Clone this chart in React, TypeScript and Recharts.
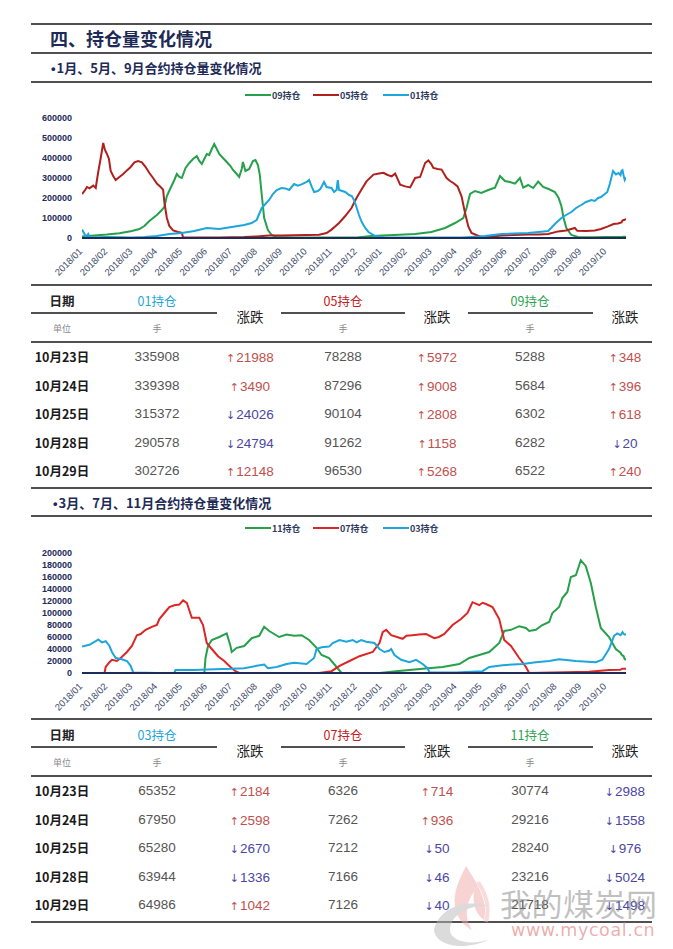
import React from "react";
import { LineChart, Line, XAxis, YAxis } from "recharts";

// month tick labels (x position = months since 2018/01)
const MONTHS = [
  "2018/01", "2018/02", "2018/03", "2018/04", "2018/05", "2018/06", "2018/07", "2018/08",
  "2018/09", "2018/10", "2018/11", "2018/12", "2019/01", "2019/02", "2019/03", "2019/04",
  "2019/05", "2019/06", "2019/07", "2019/08", "2019/09", "2019/10",
];
const MONTH_TICKS = MONTHS.map((_, i) => i);

const Y_TICKS_1 = [0, 100000, 200000, 300000, 400000, 500000, 600000];
const Y_TICKS_2 = [0, 20000, 40000, 60000, 80000, 100000, 120000, 140000, 160000, 180000, 200000];

// chart 1: [month position, open interest]
const oi09: [number, number][] = [
  [0, 8000], [0.5, 12000], [1.0, 17000], [1.5, 24000], [2.0, 35000], [2.3, 45000], [2.5, 60000],
  [2.7, 85000], [2.85, 100000], [3.0, 115000], [3.2, 140000], [3.3, 155000], [3.4, 210000],
  [3.55, 250000], [3.7, 290000], [3.8, 320000], [3.9, 305000], [4.0, 300000], [4.15, 350000],
  [4.3, 375000], [4.45, 395000], [4.6, 410000], [4.7, 385000], [4.8, 370000], [4.9, 395000],
  [5.0, 420000], [5.1, 415000], [5.2, 445000], [5.3, 470000], [5.4, 445000], [5.5, 420000],
  [5.65, 400000], [5.8, 380000], [5.95, 360000], [6.05, 340000], [6.2, 320000], [6.3, 305000],
  [6.4, 345000], [6.45, 380000], [6.55, 335000], [6.7, 345000], [6.85, 385000], [6.95, 390000],
  [7.05, 365000], [7.12, 320000], [7.2, 220000], [7.3, 100000], [7.45, 40000], [7.6, 15000],
  [7.8, 5000], [8.5, 3000], [10, 2000], [11.0, 3000], [11.6, 10000], [12.5, 15000],
  [13.35, 20000], [14.0, 30000], [14.55, 50000], [14.95, 75000], [15.28, 100000],
  [15.41, 150000], [15.55, 220000], [15.75, 235000], [16.0, 225000], [16.28, 240000],
  [16.55, 252000], [16.75, 310000], [16.95, 285000], [17.15, 280000], [17.35, 272000],
  [17.55, 300000], [17.68, 252000], [17.88, 265000], [18.08, 250000], [18.28, 282000],
  [18.48, 255000], [18.7, 245000], [18.95, 230000], [19.1, 200000], [19.21, 160000],
  [19.3, 100000], [19.41, 50000], [19.61, 15000], [19.88, 5000], [20.5, 4000], [21.0, 4500],
  [21.62, 5288], [21.66, 5684], [21.7, 6302], [21.75, 6282], [21.8, 6522],
];

const oi05: [number, number][] = [
  [0, 220000], [0.1, 235000], [0.2, 255000], [0.3, 248000], [0.45, 262000], [0.55, 250000],
  [0.65, 330000], [0.75, 400000], [0.85, 475000], [0.92, 440000], [1.0, 420000], [1.08, 395000],
  [1.15, 335000], [1.25, 310000], [1.35, 290000], [1.5, 305000], [1.65, 320000], [1.8, 338000],
  [1.95, 355000], [2.1, 378000], [2.25, 385000], [2.4, 378000], [2.55, 355000], [2.7, 325000],
  [2.85, 300000], [3.0, 272000], [3.15, 255000], [3.25, 242000], [3.3, 180000], [3.4, 100000],
  [3.5, 60000], [3.65, 38000], [3.85, 30000], [4.0, 26000], [4.05, 3000], [4.5, 2000],
  [5.5, 3000], [6.5, 5000], [7.0, 8000], [7.5, 12000], [8.0, 13000], [8.5, 14000],
  [9.0, 15000], [9.5, 16000], [9.8, 25000], [10.0, 42000], [10.3, 75000], [10.55, 110000],
  [10.8, 150000], [11.0, 200000], [11.2, 242000], [11.4, 283000], [11.68, 317000],
  [11.9, 322000], [12.08, 326000], [12.25, 315000], [12.41, 308000], [12.55, 322000],
  [12.75, 267000], [12.95, 258000], [13.15, 253000], [13.35, 300000], [13.55, 305000],
  [13.75, 375000], [13.88, 388000], [14.0, 370000], [14.08, 350000], [14.25, 345000],
  [14.41, 342000], [14.61, 300000], [14.75, 285000], [14.88, 275000], [15.05, 258000],
  [15.21, 208000], [15.35, 125000], [15.48, 58000], [15.61, 25000], [15.8, 15000],
  [16.08, 2000], [16.5, 8000], [16.81, 12000], [17.3, 15000], [17.88, 17000], [18.3, 18000],
  [18.68, 20000], [19.08, 33000], [19.4, 38000], [19.75, 50000], [19.85, 36000],
  [20.2, 35000], [20.55, 38000], [20.8, 45000], [21.08, 58000], [21.3, 70000],
  [21.48, 72316], [21.62, 78288], [21.66, 87296], [21.7, 90104], [21.75, 91262], [21.8, 96530],
];

const oi01: [number, number][] = [
  [0, 42000], [0.1, 20000], [0.15, 5000], [0.25, 20000], [0.3, 5000], [0.6, 4000], [1, 5000],
  [2, 3000], [2.5, 5000], [3, 10000], [3.5, 20000], [4, 25000], [4.5, 35000], [5, 50000],
  [5.5, 45000], [6, 55000], [6.5, 65000], [6.8, 75000], [7.0, 90000], [7.1, 120000],
  [7.2, 150000], [7.35, 170000], [7.5, 190000], [7.65, 220000], [7.8, 240000], [8.0, 250000],
  [8.15, 248000], [8.3, 240000], [8.5, 270000], [8.65, 262000], [8.8, 268000], [9.0, 280000],
  [9.1, 290000], [9.2, 258000], [9.3, 230000], [9.45, 235000], [9.55, 245000], [9.7, 280000],
  [9.8, 255000], [10.0, 250000], [10.1, 230000], [10.2, 240000], [10.25, 290000],
  [10.3, 240000], [10.55, 230000], [10.7, 215000], [10.81, 210000], [10.9, 190000],
  [11.01, 150000], [11.1, 115000], [11.21, 80000], [11.35, 50000], [11.48, 30000],
  [11.75, 10000], [12.15, 3000], [13, 2000], [14, 2000], [15.2, 2000], [15.61, 5000],
  [16.15, 10000], [16.81, 20000], [17.3, 22000], [17.88, 25000], [18.3, 30000],
  [18.68, 35000], [18.8, 50000], [18.95, 70000], [19.21, 100000], [19.4, 115000],
  [19.61, 130000], [19.8, 150000], [20.01, 165000], [20.2, 180000], [20.41, 190000],
  [20.55, 185000], [20.68, 200000], [20.8, 205000], [20.95, 220000], [21.05, 230000],
  [21.15, 270000], [21.28, 335000], [21.4, 318000], [21.5, 325000], [21.58, 313920],
  [21.62, 335908], [21.66, 339398], [21.7, 315372], [21.75, 290578], [21.8, 302726],
];

// chart 2
const oi11: [number, number][] = [
  [0, 0], [4.9, 0], [4.95, 25000], [5.05, 45000], [5.2, 55000], [5.5, 60000], [5.8, 66000],
  [5.95, 45000], [6.0, 35000], [6.2, 42000], [6.5, 45000], [6.8, 58000], [7.1, 62000],
  [7.3, 77000], [7.5, 70000], [7.9, 60000], [8.2, 64000], [8.5, 62000], [8.8, 63000],
  [9.1, 55000], [9.4, 42000], [9.6, 30000], [9.9, 25000], [10.1, 15000], [10.3, 5000],
  [10.4, 0], [11.92, 0], [12.59, 3000], [13.65, 7000], [14.45, 10000], [15.12, 15000],
  [15.52, 25000], [15.92, 30000], [16.32, 35000], [16.72, 50000], [16.92, 70000],
  [17.19, 72000], [17.52, 78000], [17.79, 75000], [17.92, 70000], [18.19, 72000],
  [18.45, 80000], [18.72, 85000], [18.85, 100000], [19.12, 110000], [19.25, 125000],
  [19.45, 135000], [19.59, 160000], [19.79, 163000], [19.99, 188000], [20.19, 178000],
  [20.39, 150000], [20.59, 110000], [20.79, 75000], [21.12, 60000], [21.39, 40000],
  [21.58, 33762], [21.62, 30774], [21.66, 29216], [21.7, 28240], [21.75, 23216], [21.8, 21718],
];

const oi07: [number, number][] = [
  [0, 0], [0.9, 0], [0.95, 10000], [1.1, 18000], [1.2, 22000], [1.4, 20000], [1.55, 25000],
  [1.8, 35000], [2.0, 45000], [2.2, 63000], [2.35, 65000], [2.55, 72000], [2.8, 77000],
  [3.0, 80000], [3.1, 90000], [3.3, 100000], [3.5, 110000], [3.7, 113000], [3.9, 114000],
  [4.05, 121000], [4.2, 117000], [4.4, 92000], [4.7, 92000], [4.85, 80000], [5.0, 50000],
  [5.2, 40000], [5.45, 28000], [5.7, 20000], [5.95, 10000], [6.15, 3000], [6.3, 0],
  [9.5, 0], [10.0, 3000], [10.32, 12000], [10.72, 20000], [11.12, 28000], [11.65, 35000],
  [11.92, 50000], [12.05, 68000], [12.19, 72000], [12.39, 63000], [12.85, 57000],
  [13.0, 62000], [13.25, 63000], [13.5, 64000], [13.79, 65000], [14.12, 58000],
  [14.3, 60000], [14.52, 65000], [14.85, 80000], [15.19, 90000], [15.45, 100000],
  [15.65, 118000], [15.92, 113000], [16.05, 117000], [16.19, 115000], [16.45, 110000],
  [16.72, 90000], [16.92, 55000], [17.19, 45000], [17.52, 25000], [17.79, 10000],
  [17.92, 0], [20.32, 2000], [21.12, 5000], [21.58, 5612], [21.62, 6326], [21.66, 7262],
  [21.7, 7212], [21.75, 7166], [21.8, 7126],
];

const oi03: [number, number][] = [
  [0, 44000], [0.3, 47000], [0.55, 53000], [0.65, 56000], [0.8, 51000], [0.95, 53000],
  [1.1, 45000], [1.2, 35000], [1.35, 25000], [1.6, 23000], [1.8, 20000], [1.95, 12000],
  [2.05, 1000], [3.0, 0], [3.7, 0], [3.75, 5000], [4.5, 5000], [5.0, 6000], [6.0, 7000],
  [6.5, 8000], [7.0, 12000], [7.3, 14000], [7.45, 8000], [7.8, 10000], [8.2, 15000],
  [8.5, 17000], [9.0, 15000], [9.3, 25000], [9.4, 40000], [9.6, 43000], [9.9, 44000],
  [10.05, 50000], [10.32, 55000], [10.59, 52000], [10.85, 55000], [11.0, 51000],
  [11.19, 55000], [11.39, 52000], [11.72, 50000], [11.92, 40000], [12.12, 35000],
  [12.3, 37000], [12.39, 40000], [12.52, 30000], [12.79, 22000], [13.12, 18000],
  [13.39, 22000], [13.65, 15000], [13.85, 8000], [13.92, 1000], [15, 1000], [16.05, 3000],
  [16.32, 10000], [16.85, 13000], [17.65, 15000], [18.19, 18000], [18.72, 20000],
  [19.12, 23000], [19.79, 20000], [20.59, 18000], [20.85, 22000], [21.12, 40000],
  [21.32, 62000], [21.45, 66000], [21.58, 63168], [21.62, 65352], [21.66, 67950],
  [21.7, 65280], [21.75, 63944], [21.8, 64986],
];

// tables
const DATES = ["10月23日", "10月24日", "10月25日", "10月28日", "10月29日"];
const t1v01 = [335908, 339398, 315372, 290578, 302726];
const t1c01 = [21988, 3490, -24026, -24794, 12148];
const t1v05 = [78288, 87296, 90104, 91262, 96530];
const t1c05 = [5972, 9008, 2808, 1158, 5268];
const t1v09 = [5288, 5684, 6302, 6282, 6522];
const t1c09 = [348, 396, 618, -20, 240];

const t2v03 = [65352, 67950, 65280, 63944, 64986];
const t2c03 = [2184, 2598, -2670, -1336, 1042];
const t2v07 = [6326, 7262, 7212, 7166, 7126];
const t2c07 = [714, 936, -50, -46, -40];
const t2v11 = [30774, 29216, 28240, 23216, 21718];
const t2c11 = [-2988, -1558, -976, -5024, -1498];

const GREEN = "#26A04B";
const RED1 = "#B0201C";
const RED2 = "#DC2626";
const BLUE = "#1DA6DC";
const NAVY = "#1E2B57";
const RULE = "#505050";
const CJK = '"Noto Sans CJK SC", "Noto Sans", sans-serif';
const LAT = '"Liberation Sans", Arial, sans-serif';

const pts = (a: [number, number][]) => a.map(([t, v]) => ({ t, v }));

const YTick = (props: any) => (
  <text
    x={props.x - 10}
    y={props.y}
    dy={3.2}
    textAnchor="end"
    fontSize={9}
    fontWeight={700}
    fill={NAVY}
    fontFamily={LAT}
  >
    {props.payload.value}
  </text>
);

const XTick = (props: any) => {
  const x = props.x + 1;
  const y = props.y + 14;
  return (
    <text
      x={x}
      y={y}
      transform={`rotate(-45 ${x} ${y})`}
      textAnchor="end"
      fontSize={9.5}
      fill="#3D4A6A"
      fontFamily={LAT}
    >
      {MONTHS[props.payload.value]}
    </text>
  );
};

function OiChart({ top, max, yTicks, series }: any) {
  return (
    <div style={{ position: "absolute", left: 0, top }}>
      <LineChart width={673} height={185} margin={{ top: 18, right: 47, bottom: 7, left: 22 }}>
        <XAxis
          dataKey="t"
          type="number"
          domain={[0, 21.8]}
          ticks={MONTH_TICKS}
          interval={0}
          tick={<XTick />}
          tickLine={false}
          tickSize={0}
          tickMargin={0}
          height={40}
          axisLine={{ stroke: NAVY, strokeWidth: 2 }}
          allowDataOverflow
        />
        <YAxis
          type="number"
          domain={[0, max]}
          ticks={yTicks}
          interval={0}
          tick={<YTick />}
          tickLine={false}
          tickSize={0}
          tickMargin={0}
          axisLine={false}
          width={60}
        />
        {series.map((s: any) => (
          <Line
            key={s.name}
            data={pts(s.data)}
            dataKey="v"
            type="linear"
            stroke={s.color}
            strokeWidth={2}
            dot={false}
            activeDot={false}
            isAnimationActive={false}
          />
        ))}
      </LineChart>
    </div>
  );
}

function Legend({ top, items }: any) {
  const lefts = [245, 313, 383];
  return (
    <>
      {items.map((it: any, i: number) => (
        <div
          key={it.name}
          style={{ position: "absolute", left: lefts[i], top: top - 7, height: 14, display: "flex", alignItems: "center" }}
        >
          <div style={{ width: 26, height: 2, background: it.color }} />
          <span style={{ fontFamily: CJK, fontSize: 9, fontWeight: 700, color: "#2E3A5C", marginLeft: 1 }}>{it.name}</span>
        </div>
      ))}
    </>
  );
}

const Rule = ({ x1, x2, y }: any) => (
  <div style={{ position: "absolute", left: x1, top: y - 1, width: x2 - x1, height: 2, background: RULE }} />
);

const Cell = ({ x, y, children, style }: any) => (
  <div
    style={{
      position: "absolute", left: x - 60, top: y - 10, width: 120, height: 20, lineHeight: "20px",
      textAlign: "center", whiteSpace: "nowrap", ...style,
    }}
  >
    {children}
  </div>
);

const Chg = ({ v }: { v: number }) => {
  const up = v >= 0;
  return (
    <span style={{ color: up ? "#C0504D" : "#4A47A3", fontFamily: LAT, fontSize: 13.5 }}>
      <span style={{ fontFamily: '"DejaVu Sans"', fontSize: 11, marginRight: 1 }}>{up ? "↑" : "↓"}</span>
      {Math.abs(v)}
    </span>
  );
};

const COLS = [62, 157, 250, 343, 437, 530, 625];
const ROW_OFF = [72, 100.5, 129, 157.5, 186];

function OiTable({ top, names, colors, cols }: any) {
  const head = { fontFamily: CJK, fontSize: 12.5 };
  const unit = { fontFamily: CJK, fontSize: 9, color: "#8A8A8A" };
  return (
    <>
      <Rule x1={31} x2={652} y={top} />
      <Cell x={COLS[0]} y={top + 16} style={{ ...head, fontWeight: 700, color: "#222" }}>日期</Cell>
      {names.map((n: string, i: number) => (
        <React.Fragment key={n}>
          <Cell x={COLS[1 + i * 2]} y={top + 16} style={{ ...head, color: colors[i] }}>{n}</Cell>
          <Cell x={COLS[2 + i * 2]} y={top + 31} style={{ fontFamily: CJK, fontSize: 13.5, color: "#222" }}>涨跌</Cell>
          <Cell x={COLS[1 + i * 2]} y={top + 44} style={unit}>手</Cell>
        </React.Fragment>
      ))}
      <Rule x1={31} x2={217} y={top + 28} />
      <Rule x1={281} x2={405} y={top + 28} />
      <Rule x1={468} x2={593} y={top + 28} />
      <Cell x={COLS[0]} y={top + 44} style={unit}>单位</Cell>
      <Rule x1={31} x2={652} y={top + 57} />
      {DATES.map((d, r) => (
        <React.Fragment key={d}>
          <Cell x={COLS[0]} y={top + ROW_OFF[r]} style={{ fontFamily: CJK, fontSize: 12.5, fontWeight: 700, color: "#1A1A1A" }}>
            {d}
          </Cell>
          {cols.map((c: any, i: number) => (
            <React.Fragment key={i}>
              <Cell x={COLS[1 + i * 2]} y={top + ROW_OFF[r]} style={{ fontFamily: LAT, fontSize: 13.5, color: "#555" }}>
                {c.v[r]}
              </Cell>
              <Cell x={COLS[2 + i * 2]} y={top + ROW_OFF[r]}>
                <Chg v={c.c[r]} />
              </Cell>
            </React.Fragment>
          ))}
        </React.Fragment>
      ))}
      <Rule x1={31} x2={652} y={top + 203} />
    </>
  );
}

function Watermark() {
  return (
    <>
      <svg width={80} height={90} style={{ position: "absolute", left: 428, top: 858, opacity: 0.5 }}>
        <path d="M38 8 C30 24, 22 40, 30 58 C34 66, 40 70, 44 72 C36 60, 38 44, 46 34 C44 46, 48 56, 56 62 C60 48, 54 32, 38 8 Z" fill="#F0A8A8" />
        <path d="M50 24 C58 36, 62 50, 58 64" stroke="#F4B8B8" strokeWidth={4} fill="none" />
        <path d="M6 72 C10 52, 34 40, 62 48 C40 46, 22 58, 22 72 C22 82, 40 88, 60 82 C40 92, 8 90, 6 72 Z" fill="#B8B8B8" />
      </svg>
      <div
        style={{
          position: "absolute", left: 500, top: 884, fontFamily: CJK, fontSize: 31, lineHeight: "38px",
          color: "rgba(130,130,130,0.5)", letterSpacing: 0.5,
        }}
      >
        我的煤炭网
      </div>
      <div
        style={{
          position: "absolute", left: 511, top: 919, fontFamily: '"DejaVu Sans", sans-serif', fontSize: 17.5,
          lineHeight: "22px", color: "rgba(226,120,120,0.6)", letterSpacing: 0.6,
        }}
      >
        www.mycoal.cn
      </div>
    </>
  );
}

const Bullet = () => (
  <span style={{ fontFamily: LAT, fontWeight: 700, marginRight: 1 }}>•</span>
);

export default function App() {
  return (
    <div style={{ position: "absolute", left: 0, top: 0, width: 673, height: 949, background: "#fff", overflow: "hidden" }}>
      <style>{"body{margin:0}"}</style>
      <Rule x1={31} x2={652} y={24} />
      <div style={{ position: "absolute", left: 50, top: 26, fontFamily: CJK, fontSize: 18, fontWeight: 700, color: NAVY, lineHeight: "24px" }}>
        四、持仓量变化情况
      </div>
      <Rule x1={31} x2={652} y={53} />
      <div style={{ position: "absolute", left: 51, top: 59, fontFamily: CJK, fontSize: 13, fontWeight: 700, color: NAVY, lineHeight: "18px" }}>
        <Bullet />1月、5月、9月合约持仓量变化情况
      </div>
      <Rule x1={31} x2={652} y={82} />
      <Legend
        top={95}
        items={[
          { name: "09持仓", color: GREEN },
          { name: "05持仓", color: RED1 },
          { name: "01持仓", color: BLUE },
        ]}
      />
      <OiChart
        top={100}
        max={600000}
        yTicks={Y_TICKS_1}
        series={[
          { name: "09", data: oi09, color: GREEN },
          { name: "05", data: oi05, color: RED1 },
          { name: "01", data: oi01, color: BLUE },
        ]}
      />
      <OiTable
        top={285}
        names={["01持仓", "05持仓", "09持仓"]}
        colors={[BLUE, "#C0201C", "#2EA352"]}
        cols={[
          { v: t1v01, c: t1c01 },
          { v: t1v05, c: t1c05 },
          { v: t1v09, c: t1c09 },
        ]}
      />
      <div style={{ position: "absolute", left: 53, top: 494, fontFamily: CJK, fontSize: 13, fontWeight: 700, color: NAVY, lineHeight: "18px" }}>
        <Bullet />3月、7月、11月合约持仓量变化情况
      </div>
      <Rule x1={31} x2={652} y={516} />
      <Legend
        top={528}
        items={[
          { name: "11持仓", color: GREEN },
          { name: "07持仓", color: RED2 },
          { name: "03持仓", color: BLUE },
        ]}
      />
      <OiChart
        top={535}
        max={200000}
        yTicks={Y_TICKS_2}
        series={[
          { name: "11", data: oi11, color: GREEN },
          { name: "07", data: oi07, color: RED2 },
          { name: "03", data: oi03, color: BLUE },
        ]}
      />
      <OiTable
        top={719}
        names={["03持仓", "07持仓", "11持仓"]}
        colors={[BLUE, "#C0201C", "#2EA352"]}
        cols={[
          { v: t2v03, c: t2c03 },
          { v: t2v07, c: t2c07 },
          { v: t2v11, c: t2c11 },
        ]}
      />
      <Watermark />
    </div>
  );
}
